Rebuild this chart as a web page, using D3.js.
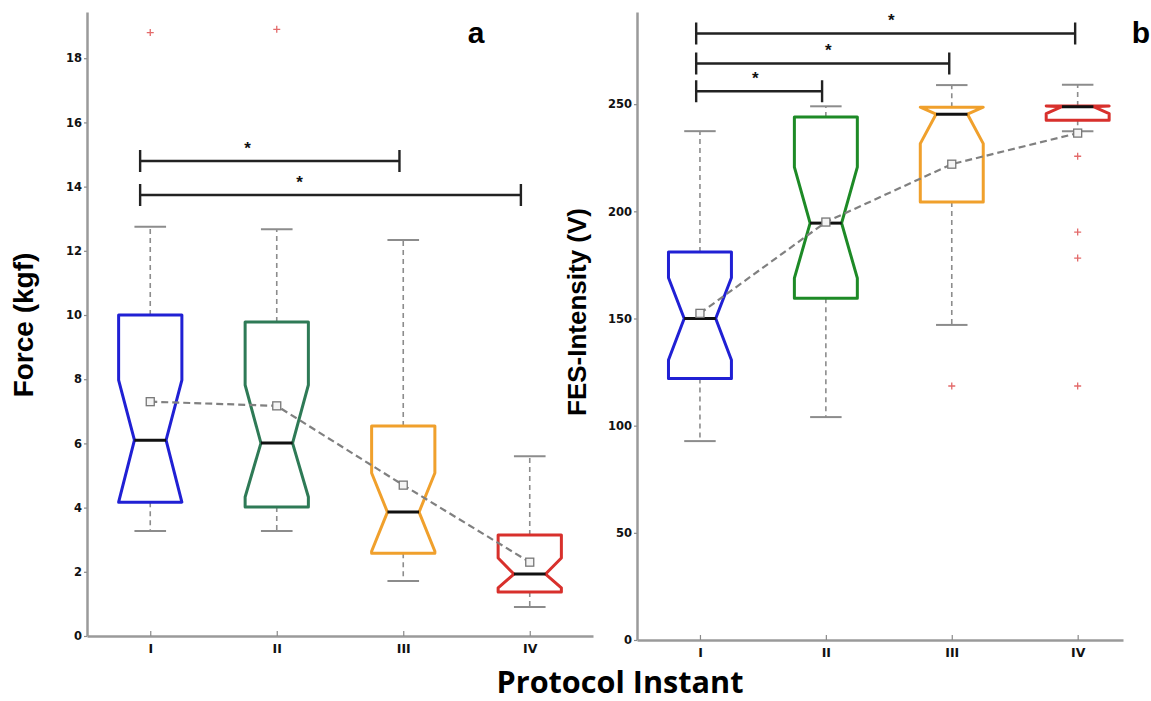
<!DOCTYPE html>
<html><head><meta charset="utf-8">
<script src="https://cdn.jsdelivr.net/npm/d3@7"></script>
<style>
html,body{margin:0;padding:0;background:#fff;}
svg{display:block;font-family:"Liberation Sans",Arial,sans-serif;}
</style></head>
<body>
<svg id="chart" width="1151" height="701"></svg>
<script>
const categories = ["I", "II", "III", "IV"];

// Panel a: Force (kgf)
const forceQ1 = [4.17, 4.02, 2.58, 1.37];
const forceMedian = [6.10, 6.01, 3.86, 1.93];
const forceQ3 = [10.0, 9.78, 6.54, 3.15];
const forceNotchLo = [4.10, 4.33, 2.64, 1.50];
const forceNotchHi = [7.97, 7.82, 5.08, 2.43];
const forceWhiskerLo = [3.27, 3.27, 1.71, 0.90];
const forceWhiskerHi = [12.75, 12.67, 12.34, 5.60];
const forceMean = [7.30, 7.17, 4.70, 2.30];
const forceOutliers = [[18.8], [18.9], [], []];
const forceTicks = [0, 2, 4, 6, 8, 10, 12, 14, 16, 18];
const forceSigFrom = [0.92, 0.92];
const forceSigTo = [2.97, 3.93];
const forceSigLevel = [14.8, 13.74];
const forceSigStar = [1.77, 2.18];

// Panel b: FES-Intensity (V)
const fesQ1 = [122, 159.5, 204.3, 242.5];
const fesMedian = [150, 194.5, 245.3, 248.8];
const fesQ3 = [181, 244, 248.6, 249.2];
const fesNotchLo = [130.6, 168.8, 231.6, 245.6];
const fesNotchHi = [169, 220.6, 258, 252];
const fesWhiskerLo = [92.8, 104, 147, 237.4];
const fesWhiskerHi = [237.4, 249, 258.9, 259];
const fesMean = [152.4, 195, 222, 236.5];
const fesOutliers = [[], [], [118.5], [225.7, 190.3, 178.2, 118.5]];
const fesTicks = [0, 50, 100, 150, 200, 250];
const fesSigFrom = [0.97, 0.97, 0.97];
const fesSigTo = [1.97, 2.98, 3.98];
const fesSigLevel = [256, 269, 283];
const fesSigStar = [1.44, 2.02, 2.52];

const svg = d3.select("#chart");

function panel(cfg) {
  const g = svg.append("g");
  const x = d3.scaleLinear().domain(cfg.xDomain).range(cfg.xRange);
  const y = d3.scaleLinear().domain(cfg.yDomain).range(cfg.yRange);
  const boxHalf = (x(1.25) - x(1));
  const notchHalf = boxHalf * 0.5;
  const capHalf = boxHalf * 0.5;

  // axes
  const yAxis = g.append("g").attr("transform", `translate(${cfg.xRange[0]},0)`)
    .call(d3.axisLeft(y).tickValues(cfg.ticks).tickSize(3).tickSizeOuter(0).tickPadding(2));
  const xAxis = g.append("g").attr("transform", `translate(0,${cfg.yRange[0]})`)
    .call(d3.axisBottom(x).tickValues([1, 2, 3, 4]).tickFormat(d => categories[d - 1]).tickSize(-5).tickSizeOuter(0).tickPadding(8));
  [yAxis, xAxis].forEach(a => {
    a.select(".domain").attr("stroke", "#9a9a9a").attr("stroke-width", 2.5);
    a.selectAll(".tick line").attr("stroke", "#8a8a8a").attr("stroke-width", 1.2);
    a.selectAll(".tick text").attr("fill", "#111").attr("font-size", 11.5).attr("font-weight", "bold")
      .attr("font-family", "'DejaVu Sans',sans-serif");
  });
  xAxis.selectAll(".tick text").attr("font-size", 12.5);

  categories.forEach((c, i) => {
    const cx = x(i + 1);
    const col = cfg.colors[i];
    // whiskers
    g.append("line").attr("x1", cx).attr("x2", cx).attr("y1", y(cfg.q3[i])).attr("y2", y(cfg.wHi[i]))
      .attr("stroke", "#8c8c8c").attr("stroke-width", 1.6).attr("stroke-dasharray", "5,4");
    g.append("line").attr("x1", cx).attr("x2", cx).attr("y1", y(cfg.q1[i])).attr("y2", y(cfg.wLo[i]))
      .attr("stroke", "#8c8c8c").attr("stroke-width", 1.6).attr("stroke-dasharray", "5,4");
    [cfg.wHi[i], cfg.wLo[i]].forEach(v => {
      g.append("line").attr("x1", cx - capHalf).attr("x2", cx + capHalf).attr("y1", y(v)).attr("y2", y(v))
        .attr("stroke", "#8c8c8c").attr("stroke-width", 2);
    });
    // notched box
    const nLo = Math.max(cfg.nLo[i], cfg.q1[i]);
    const nHi = Math.min(cfg.nHi[i], cfg.q3[i]);
    const pts = [
      [cx - boxHalf, y(cfg.q1[i])], [cx - boxHalf, y(nLo)], [cx - notchHalf, y(cfg.med[i])],
      [cx - boxHalf, y(nHi)], [cx - boxHalf, y(cfg.q3[i])], [cx + boxHalf, y(cfg.q3[i])],
      [cx + boxHalf, y(nHi)], [cx + notchHalf, y(cfg.med[i])], [cx + boxHalf, y(nLo)],
      [cx + boxHalf, y(cfg.q1[i])]
    ];
    g.append("path").attr("d", d3.line()(pts) + "Z").attr("fill", "none")
      .attr("stroke", col).attr("stroke-width", 3).attr("stroke-linejoin", "round");
    g.append("line").attr("x1", cx - notchHalf).attr("x2", cx + notchHalf)
      .attr("y1", y(cfg.med[i])).attr("y2", y(cfg.med[i])).attr("stroke", "#111").attr("stroke-width", 3);
    // outliers
    cfg.out[i].forEach(v => {
      const oy = y(v);
      g.append("path").attr("d", `M${cx - 3.5},${oy}H${cx + 3.5}M${cx},${oy - 3.5}V${oy + 3.5}`)
        .attr("stroke", "#e36a6a").attr("stroke-width", 1.3);
    });
  });

  // mean line
  g.append("path").attr("d", d3.line().x((d, i) => x(i + 1)).y(d => y(d))(cfg.mean))
    .attr("fill", "none").attr("stroke", "#808080").attr("stroke-width", 2.2).attr("stroke-dasharray", "7,4");
  g.selectAll(".meanpt").data(cfg.mean).join("rect")
    .attr("x", (d, i) => x(i + 1) - 4).attr("y", d => y(d) - 4).attr("width", 8).attr("height", 8)
    .attr("fill", "#f4f4f4").attr("stroke", "#777").attr("stroke-width", 1.3);

  // significance bars
  cfg.sigLevel.forEach((lv, k) => {
    const yy = y(lv), x1 = x(cfg.sigFrom[k]), x2 = x(cfg.sigTo[k]);
    g.append("path").attr("d", `M${x1},${yy - 11}V${yy + 11}M${x1},${yy}H${x2}M${x2},${yy - 11}V${yy + 11}`)
      .attr("fill", "none").attr("stroke", "#222").attr("stroke-width", 2.4);
    g.append("text").attr("x", x(cfg.sigStar[k])).attr("y", yy - 7).attr("text-anchor", "middle")
      .attr("font-size", 17).attr("font-weight", "bold").attr("fill", "#111").text("*");
  });

  // panel letter
  g.append("text").attr("x", cfg.letterX).attr("y", 43).attr("text-anchor", "middle")
    .attr("font-size", 30).attr("font-weight", "bold").attr("fill", "#000").text(cfg.letter);

  // y title
  g.append("text").attr("transform", `translate(${cfg.titleX},${cfg.titleY}) rotate(-90)`)
    .attr("text-anchor", "middle").attr("font-size", cfg.titleSize).attr("font-weight", "bold")
    .attr("fill", "#000").text(cfg.title);
}

panel({
  xDomain: [0.5, 4.5], xRange: [87, 593], yDomain: [0, 19.44], yRange: [636, 12],
  ticks: forceTicks, colors: ["#2020d4", "#2e7a56", "#f0a02c", "#d8302c"],
  q1: forceQ1, med: forceMedian, q3: forceQ3, nLo: forceNotchLo, nHi: forceNotchHi,
  wLo: forceWhiskerLo, wHi: forceWhiskerHi, mean: forceMean, out: forceOutliers,
  sigFrom: forceSigFrom, sigTo: forceSigTo, sigLevel: forceSigLevel, sigStar: forceSigStar,
  letter: "a", letterX: 476, title: "Force (kgf)", titleX: 33, titleY: 325, titleSize: 28
});

panel({
  xDomain: [0.5, 4.36], xRange: [637, 1123], yDomain: [0, 293], yRange: [640, 12],
  ticks: fesTicks, colors: ["#2020d4", "#1d8a26", "#f0a02c", "#d8302c"],
  q1: fesQ1, med: fesMedian, q3: fesQ3, nLo: fesNotchLo, nHi: fesNotchHi,
  wLo: fesWhiskerLo, wHi: fesWhiskerHi, mean: fesMean, out: fesOutliers,
  sigFrom: fesSigFrom, sigTo: fesSigTo, sigLevel: fesSigLevel, sigStar: fesSigStar,
  letter: "b", letterX: 1141, title: "FES-Intensity (V)", titleX: 586, titleY: 312, titleSize: 26
});

svg.append("text").attr("x", 620).attr("y", 693).attr("text-anchor", "middle")
  .attr("font-family", "'Open Sans','Liberation Sans',sans-serif").attr("font-weight", "bold")
  .attr("font-size", 31).attr("textLength", 247).attr("lengthAdjust", "spacingAndGlyphs")
  .attr("fill", "#000").text("Protocol Instant");
</script>
</body></html>
